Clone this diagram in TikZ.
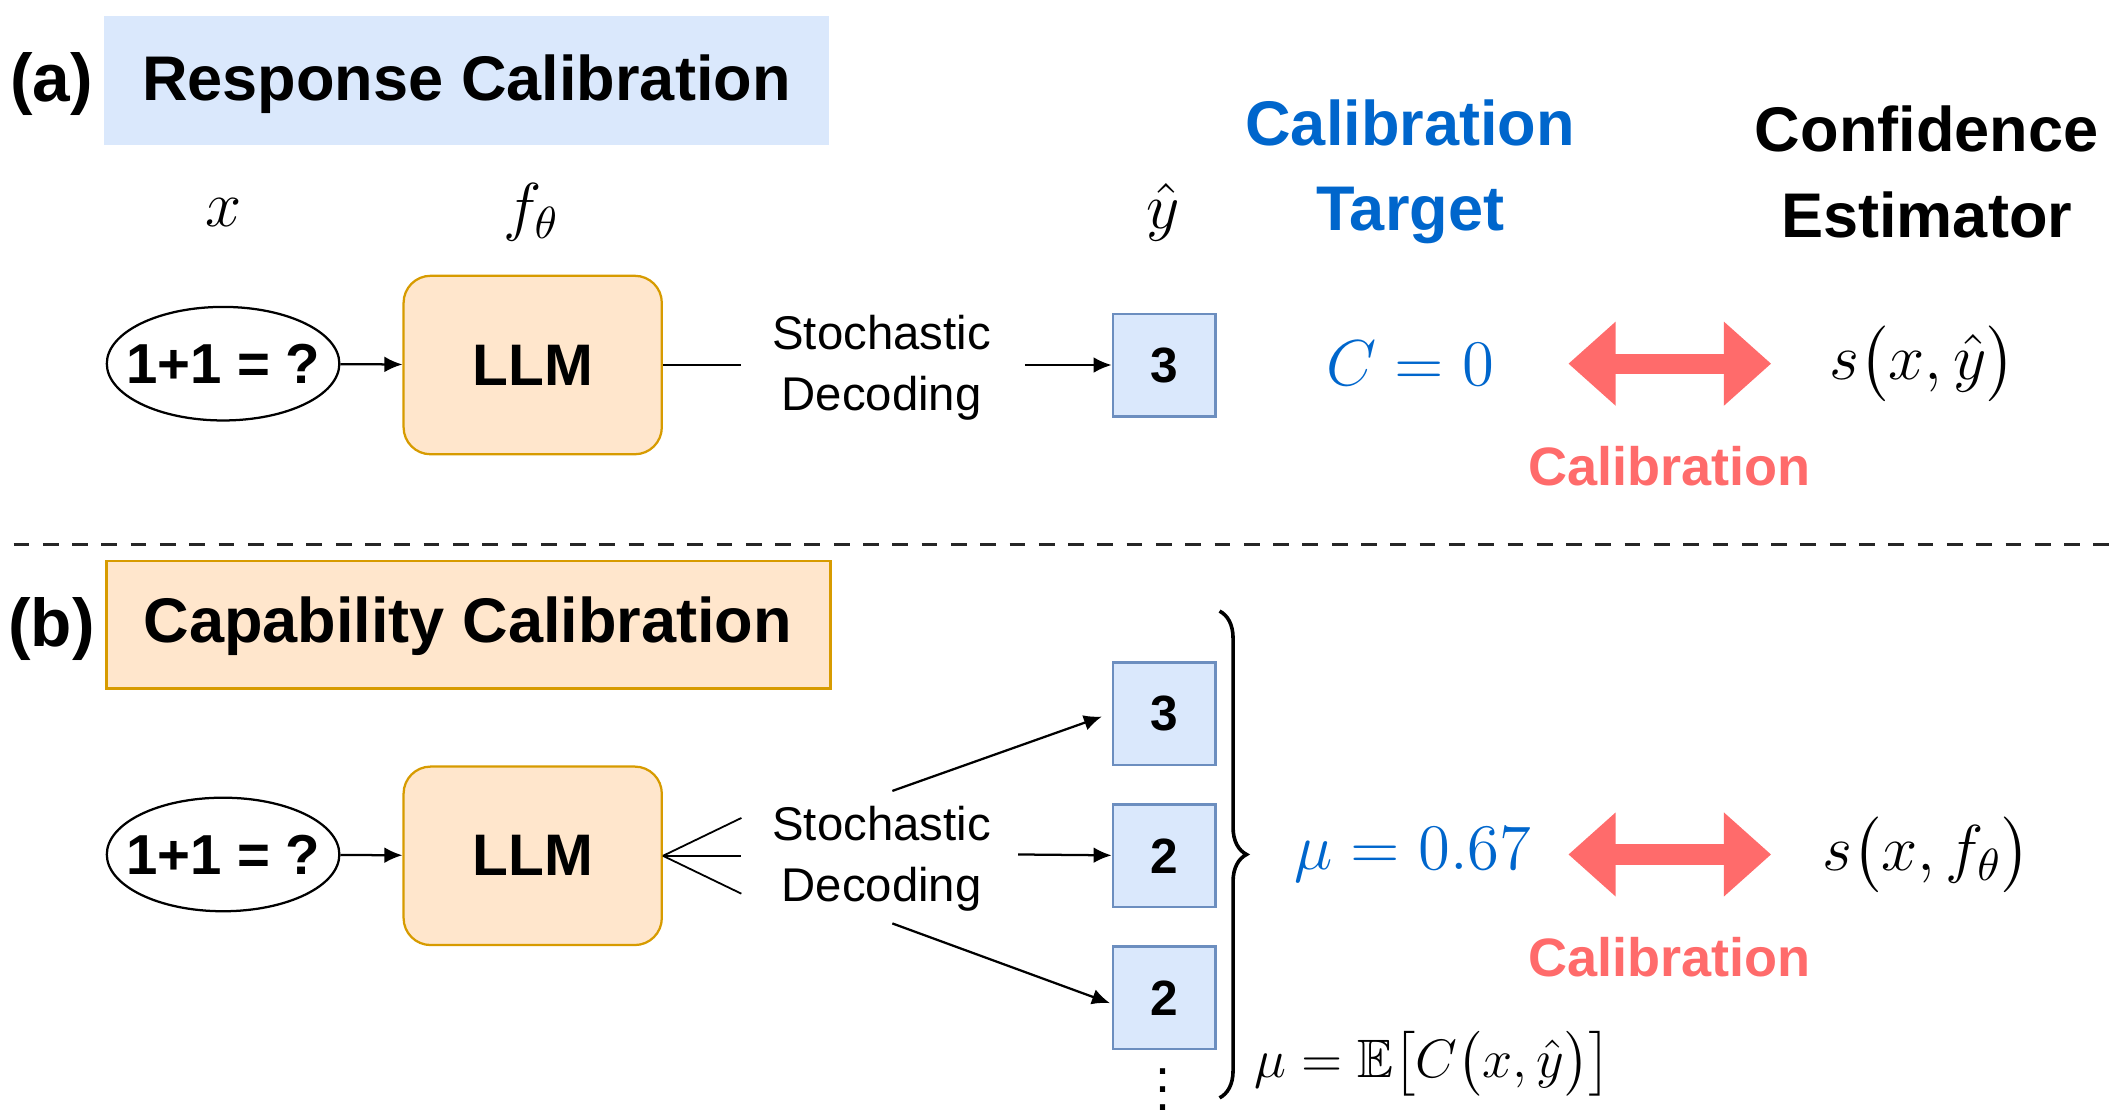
\documentclass[tikz,border=0pt]{standalone}
\usepackage{fontspec}
\usepackage{amsmath,amssymb}
\setmainfont{Liberation Sans}
\usetikzlibrary{arrows.meta,decorations.pathreplacing,shapes.geometric}
\definecolor{boxblue}{RGB}{218,232,252}
\definecolor{edgeblue}{RGB}{108,142,191}
\definecolor{boxorange}{RGB}{255,230,204}
\definecolor{edgeorange}{RGB}{215,155,0}
\definecolor{tblue}{RGB}{0,102,204}
\definecolor{cred}{RGB}{255,107,107}
\newcommand{\fs}[1]{\fontsize{#1}{#1}\selectfont}
\begin{document}
\begin{tikzpicture}
[x=0.3pt, y=-0.3pt,
 every node/.style={inner sep=0pt},
 query/.style={ellipse, draw=black, line width=0.5pt, inner xsep=-3.5pt, minimum width=51.6pt, minimum height=25.2pt, font=\fs{12.5}\bfseries},
 model/.style={rectangle, rounded corners=6pt, draw=edgeorange, fill=boxorange, line width=0.5pt, minimum width=57.3pt, minimum height=39.6pt, font=\fs{13}\bfseries},
 answer/.style={rectangle, draw=edgeblue, fill=boxblue, line width=0.5pt, minimum size=22.8pt, font=\fs{11}\bfseries},
 title/.style={font=\fs{14}\bfseries},
 plain/.style={font=\fs{10.5}, align=center},
 calib/.style={font=\fs{12}\bfseries, text=cred},
 both/.style={{Triangle[length=10.5pt,width=18pt]}-{Triangle[length=10.5pt,width=18pt]}, line width=4.5pt, cred},
 arr/.style={-{Latex[length=4pt,width=3.5pt]}, line width=0.5pt}]
\useasboundingbox (0,0) rectangle (1568,828);
% (a) response calibration
\fill[boxblue] (77,12) rectangle (613,107);
\node (labA) [font=\fs{15}\bfseries] at (38,62) {(a)};
\node (titleA) [title] at (345,62) {Response Calibration};
\node (xA) [font=\fs{14}] at (165,157) {$x$};
\node (fA) [font=\fs{14}] at (393,157) {$f_\theta$};
\node (yA) [font=\fs{14}] at (860,157) {$\hat{y}$};
\node (qA) [query] at (165,269) {1+1 = ?};
\node (mA) [model] at (394,270) {LLM};
\node (sA) [plain] at (652,272) {Stochastic\\[3pt]Decoding};
\node (aA) [answer] at (861,270) {3};
\draw (mA.east) -- ++(58,0);
\draw [arr] (qA) -- (mA);
\coordinate (oA) at (758,270);
\draw [arr] (oA) -- (aA);
\node (tgt) [title, text=tblue, align=center] at (1043,127) {Calibration\\[5pt]Target};
\node (est) [title, align=center] at (1425,127) {Confidence\\[5pt]Estimator};
\node (cA) [font=\fs{14}, text=tblue] at (1043,269) {$C=0$};
\node (sxA) [font=\fs{14}] at (1422,269) {$s\bigl(x,\hat{y}\bigr)$};
\coordinate (lA) at (1160,269);
\coordinate (rA) at (1310,269);
\draw [both] (lA) -- (rA);
\node (kA) [calib] at (1235,345) {Calibration};
\draw [dash pattern=on 3.5pt off 3pt, line width=0.7pt, black!85] (10,403) -- (1560,403);
% (b) capability calibration
\node (boxB) [rectangle, draw=edgeorange, fill=boxorange, line width=0.6pt, minimum width=160.5pt, minimum height=28.2pt] at (346.5,462) {};
\node (labB) [font=\fs{15}\bfseries] at (38,465) {(b)};
\node (titleB) [title] at (346,463) {Capability Calibration};
\node (qB) [query] at (165,632) {1+1 = ?};
\node (mB) [model] at (394,633) {LLM};
\node (sB) [plain] at (652,635) {Stochastic\\[3pt]Decoding};
\draw [arr] (qB) -- (mB);
\foreach \dy in {-28,0,28}
  \draw (mB.east) -- ++(58,\dy);
\node (b1) [answer] at (861,528) {3};
\node (b2) [answer] at (861,633) {2};
\node (b3) [answer] at (861,738) {2};
\node (dots) [font=\fs{12}] at (860,796) {$\vdots$};
\coordinate (o1) at (660,585);
\coordinate (o2) at (753,632);
\coordinate (o3) at (660,683);
\coordinate (e1) at (815,530);
\coordinate (e3) at (821,742);
\draw [arr] (o1) -- (e1);
\draw [arr] (o2) -- (b2);
\draw [arr] (o3) -- (e3);
\draw [decorate, decoration={brace, amplitude=6pt}, line width=0.8pt] (902,452) -- (902,812);
\node (mu) [font=\fs{14}, text=tblue] at (1045,632) {$\mu=0.67$};
\node (muDef) [font=\fs{12}, anchor=west] at (927,787) {$\mu=\mathbb{E}\bigl[C\bigl(x,\hat{y}\bigr)\bigr]$};
\node (sxB) [font=\fs{14}] at (1425,632) {$s\bigl(x,f_\theta\bigr)$};
\coordinate (lB) at (1160,632);
\coordinate (rB) at (1310,632);
\draw [both] (lB) -- (rB);
\node (kB) [calib] at (1235,708) {Calibration};
\end{tikzpicture}
\end{document}
